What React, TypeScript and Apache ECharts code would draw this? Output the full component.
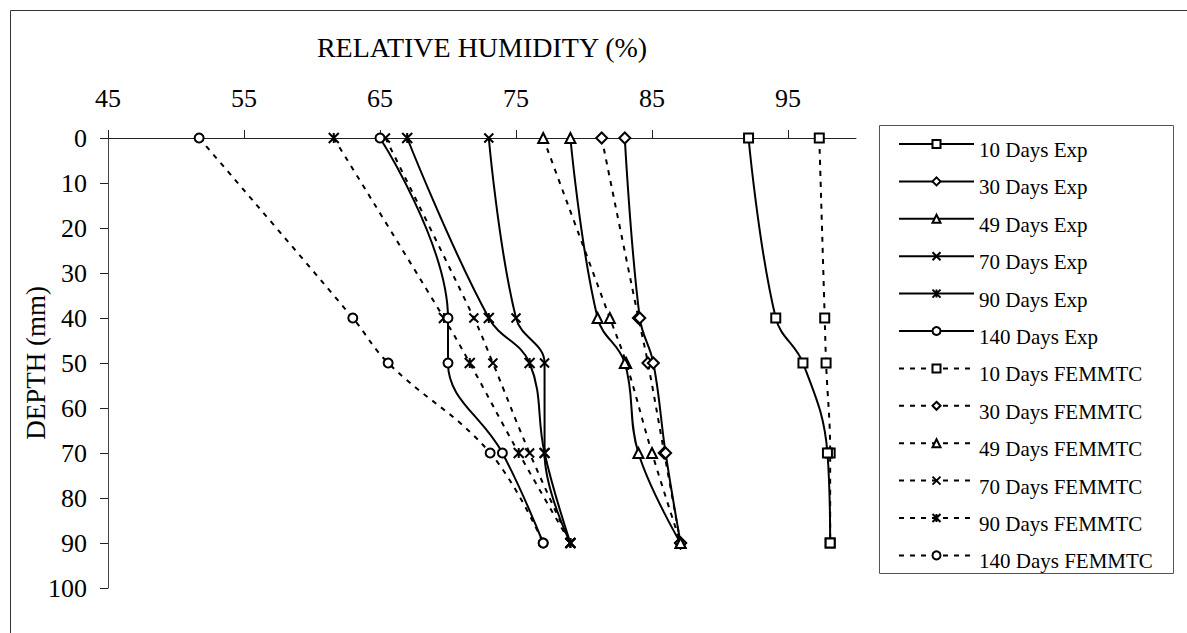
import React, { useEffect, useRef } from "react";
import * as echarts from "echarts";

const depths = [0, 40, 50, 70, 90];
const seriesNames = [
  "10 Days Exp", "30 Days Exp", "49 Days Exp", "70 Days Exp", "90 Days Exp", "140 Days Exp",
  "10 Days FEMMTC", "30 Days FEMMTC", "49 Days FEMMTC", "70 Days FEMMTC", "90 Days FEMMTC", "140 Days FEMMTC",
];
const exp10 = [92.1, 94.1, 96.1, 97.9, 98.1];
const exp30 = [83.0, 84.1, 85.1, 86.0, 87.1];
const exp49 = [79.0, 81.0, 83.0, 84.0, 87.1];
const exp70 = [73.0, 75.0, 77.1, 77.1, 79.0];
const exp90 = [67.0, 73.0, 76.0, 77.1, 79.0];
const exp140 = [65.0, 70.0, 70.0, 74.0, 77.0];
const fem10 = [97.3, 97.7, 97.8, 98.1, 98.1];
const fem30 = [81.3, 84.0, 84.7, 85.9, 87.1];
const fem49 = [77.0, 81.9, 83.1, 85.0, 87.1];
const fem70 = [65.4, 71.9, 73.3, 76.0, 79.0];
const fem90 = [61.6, 69.7, 71.6, 75.2, 79.0];
const fem140 = [51.7, 63.0, 65.6, 73.1, 77.0];
const xTickValues = [45, 55, 65, 75, 85, 95];

const X_PATH = "path://M0,0L10,10M10,0L0,10";
const STAR_PATH = "path://M0,0L10,10M10,0L0,10M5,0L5,10";

const FONT = "Liberation Serif";

export default function App() {
  const ref = useRef<HTMLDivElement>(null);
  useEffect(() => {
    if (!ref.current) return;
    const chart = echarts.init(ref.current, undefined, { renderer: "svg" });
    const allValues = [exp10, exp30, exp49, exp70, exp90, exp140, fem10, fem30, fem49, fem70, fem90, fem140];
    const symbols = ["rect", "diamond", "triangle", X_PATH, STAR_PATH, "circle"];
    const sizes = [9, 11, 10, 9, 10, 9];
    const series = allValues.map((vals, i) => {
      const k = i % 6;
      const dashed = i >= 6;
      return {
        name: seriesNames[i],
        type: "line",
        smooth: 0.4,
        data: vals.map((v, j) => [v, depths[j]]),
        symbol: symbols[k],
        symbolSize: sizes[k],
        showAllSymbol: true,
        lineStyle: { color: "#000", width: 2, type: dashed ? [5, 6] : "solid" },
        itemStyle: { color: "#fff", borderColor: "#000", borderWidth: 2 },
        z: dashed ? 2 : 3,
      };
    });
    chart.setOption({
      animation: false,
      textStyle: { fontFamily: FONT, color: "#000" },
      grid: { left: 108, top: 138, width: 748, height: 450, containLabel: false },
      xAxis: {
        type: "value",
        position: "top",
        min: 45,
        max: 100,
        name: "RELATIVE HUMIDITY (%)",
        nameLocation: "middle",
        nameGap: 77,
        nameMoveOverlap: false,
        nameTextStyle: { fontFamily: FONT, fontSize: 28, color: "#000" },
        axisLine: { lineStyle: { color: "#222", width: 1 } },
        axisTick: { show: true, length: 8, customValues: xTickValues, lineStyle: { color: "#222" } },
        axisLabel: { customValues: xTickValues, fontFamily: FONT, fontSize: 26, color: "#000", margin: 27 },
        splitLine: { show: false },
      },
      yAxis: {
        type: "value",
        inverse: true,
        min: 0,
        max: 100,
        interval: 10,
        name: "DEPTH (mm)",
        nameLocation: "middle",
        nameGap: 59,
        nameMoveOverlap: false,
        nameTextStyle: { fontFamily: FONT, fontSize: 27, color: "#000" },
        axisLine: { show: true, lineStyle: { color: "#444", width: 1 } },
        axisTick: { show: true, length: 8, lineStyle: { color: "#222" } },
        axisLabel: { fontFamily: FONT, fontSize: 26, color: "#000", margin: 21 },
        splitLine: { show: false },
      },
      legend: {
        orient: "vertical",
        left: 898,
        top: 139,
        padding: 0,
        itemWidth: 75,
        itemHeight: 10,
        itemGap: 15.9,
        formatter: (name: string) => `{t|${name}}`,
        textStyle: {
          fontFamily: FONT,
          fontSize: 21,
          color: "#000",
          rich: { t: { fontFamily: FONT, fontSize: 21, color: "#000", padding: [12, 0, 0, 0] } },
        },
        data: seriesNames,
      },
      graphic: [
        {
          type: "rect",
          shape: { x: 10.5, y: 10.5, width: 1300, height: 800 },
          style: { fill: "none", stroke: "#333", lineWidth: 1 },
          silent: true,
        },
        {
          type: "rect",
          shape: { x: 879.5, y: 125.5, width: 294, height: 448 },
          style: { fill: "none", stroke: "#555", lineWidth: 1 },
          silent: true,
        },
      ],
      series,
    });
    return () => chart.dispose();
  }, []);
  return (
    <div style={{ position: "fixed", left: 0, top: 0, width: 1187, height: 633, background: "#fff" }}>
      <div ref={ref} style={{ width: 1187, height: 633 }} />
    </div>
  );
}
